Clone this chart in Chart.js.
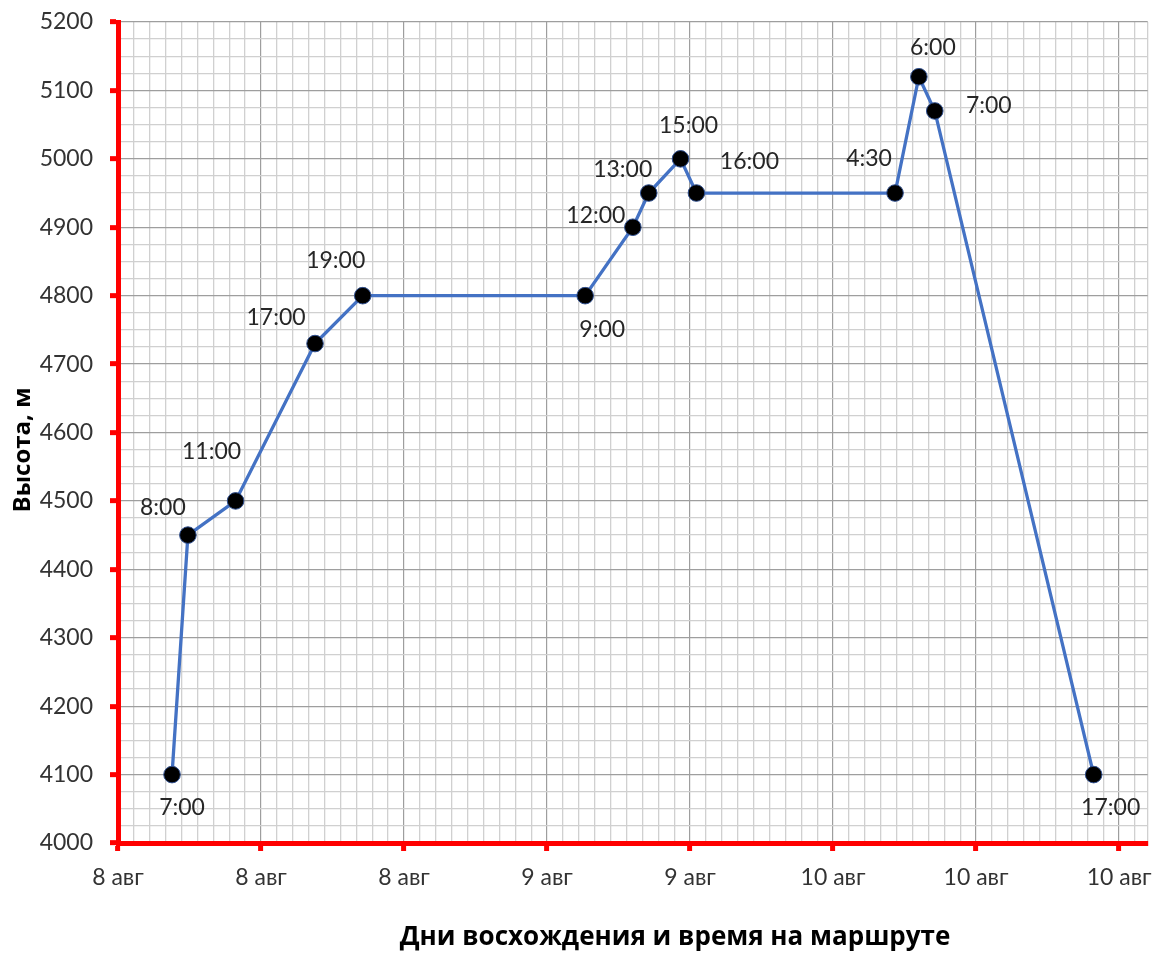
<!DOCTYPE html>
<html>
<head>
<meta charset="utf-8">
<script src="https://cdn.jsdelivr.net/npm/chart.js@4"></script>
<style>
  html, body { margin: 0; padding: 0; background: #fff; overflow: hidden; }
  #wrap { width: 1157px; height: 955px; position: relative; }
  canvas { display: block; }
</style>
</head>
<body>
<div id="wrap"><canvas id="chart"></canvas></div>
<script>
// hours since 8 авг 00:00
let hours = [7, 8, 11, 16, 19, 33, 36, 37, 39, 40, 52.5, 54, 55, 65];
let heights = [4100, 4450, 4500, 4730, 4800, 4800, 4900, 4950, 5000, 4950, 4950, 5120, 5070, 4100];
let timeLabels = ['7:00', '8:00', '11:00', '17:00', '19:00', '9:00', '12:00', '13:00', '15:00', '16:00', '4:30', '6:00', '7:00', '17:00'];
let xTickLabels = ['8 авг', '8 авг', '8 авг', '9 авг', '9 авг', '10 авг', '10 авг', '10 авг'];

// where each time label sits relative to its point (px)
let labelOffsets = [[10, 33], [-25, -28], [-24, -49], [-39, -26], [-27, -35], [17, 34], [-37, -12],
    [-26, -23], [8, -33], [53, -31], [-26, -34], [14, -29], [54, -5], [17, 33]];

const xMin = 3.6, xMax = 68.4, xMajor = 9;
const font = 'Lato, "Open Sans", sans-serif';
const titleFont = '"Open Sans", Lato, sans-serif';

function isMajorX(v) {
    let k = (v - xMin) / xMajor;
    return Math.abs(k - Math.round(k)) < 1e-6;
}

const pointLabels = {
    id: 'pointLabels',
    afterDatasetsDraw(chart) {
        const ctx = chart.ctx;
        const meta = chart.getDatasetMeta(0);
        ctx.save();
        ctx.font = '23px ' + font;
        ctx.fillStyle = '#262626';
        ctx.textAlign = 'center';
        ctx.textBaseline = 'middle';
        meta.data.forEach((pt, i) => {
            ctx.fillText(timeLabels[i], pt.x + labelOffsets[i][0], pt.y + labelOffsets[i][1]);
        });
        ctx.restore();
    }
};

const axisTitles = {
    id: 'axisTitles',
    afterDraw(chart) {
        const ctx = chart.ctx;
        ctx.save();
        ctx.fillStyle = '#000';
        ctx.textAlign = 'center';
        ctx.textBaseline = 'middle';
        ctx.font = 'bold 26px ' + titleFont;
        ctx.fillText('Дни восхождения и время на маршруте', 675, 938);
        ctx.font = 'bold 24px ' + titleFont;
        ctx.translate(23, 450);
        ctx.rotate(-Math.PI / 2);
        ctx.fillText('Высота, м', 0, 0);
        ctx.restore();
    }
};

new Chart(document.getElementById('chart'), {
    type: 'line',
    data: {
        datasets: [{
            data: hours.map((h, i) => ({x: h, y: heights[i]})),
            borderColor: '#4472C4',
            borderWidth: 3.3,
            pointRadius: 8.3,
            pointBackgroundColor: '#000',
            pointBorderColor: '#2f4f8f',
            pointBorderWidth: 1,
            tension: 0
        }]
    },
    options: {
        responsive: true,
        maintainAspectRatio: false,
        animation: false,
        layout: {padding: {top: 22, right: 8, left: 0, bottom: 0}},
        plugins: {legend: {display: false}, tooltip: {enabled: false}},
        scales: {
            x: {
                type: 'linear',
                min: xMin,
                max: xMax,
                afterBuildTicks: axis => {
                    let t = [];
                    for (let v = xMin; v < xMax - 0.01; v += 1) t.push({value: v});
                    t.push({value: xMax});
                    axis.ticks = t;
                },
                afterFit: s => {
                    s.height = 112;
                    s.paddingLeft = 0;
                    s.paddingRight = 0;
                },
                border: {color: '#ff0000', width: 5},
                grid: {
                    color: c => isMajorX(c.tick.value) ? '#9e9e9e' : '#d0d0d0',
                    lineWidth: c => isMajorX(c.tick.value) ? 1.2 : 1.3,
                    tickColor: c => isMajorX(c.tick.value) ? '#ff0000' : 'rgba(0,0,0,0)',
                    tickWidth: 5,
                    tickLength: 8
                },
                ticks: {
                    autoSkip: false,
                    maxRotation: 0,
                    padding: 13,
                    color: '#333',
                    font: {family: font, size: 23},
                    callback: v => isMajorX(v) ? xTickLabels[Math.round((v - xMin) / xMajor)] : ''
                }
            },
            y: {
                min: 4000,
                max: 5200,
                afterFit: s => {
                    s.width = 118;
                    s.paddingTop = 0;
                    s.paddingBottom = 0;
                },
                border: {color: '#ff0000', width: 5},
                grid: {
                    color: c => c.tick.value % 100 === 0 ? '#9e9e9e' : '#d0d0d0',
                    lineWidth: 1.3,
                    tickColor: c => c.tick.value % 100 === 0 ? '#ff0000' : 'rgba(0,0,0,0)',
                    tickWidth: 5,
                    tickLength: 8
                },
                ticks: {
                    stepSize: 25,
                    autoSkip: false,
                    padding: 17,
                    color: '#333',
                    font: {family: font, size: 23},
                    callback: v => v % 100 === 0 ? v : ''
                }
            }
        }
    },
    plugins: [pointLabels, axisTitles]
});
</script>
</body>
</html>
